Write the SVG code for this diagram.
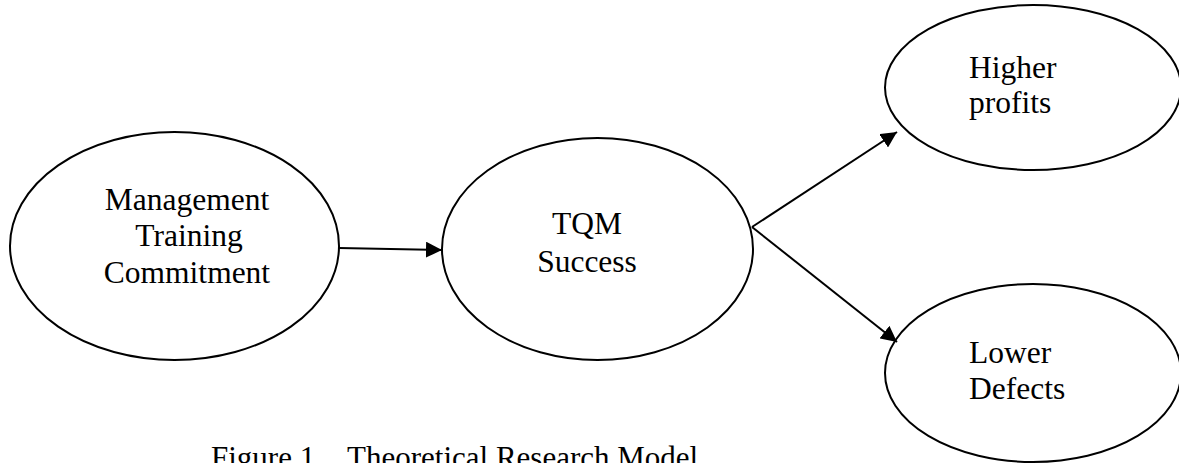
<svg xmlns="http://www.w3.org/2000/svg" width="1179" height="463" viewBox="0 0 1179 463">
<style>
.node ellipse{fill:#fff;stroke:#000;stroke-width:2}
text{font-family:"Liberation Serif","Times New Roman",serif;font-size:31.5px;fill:#000}
.c{text-anchor:middle}
.cap{font-size:31px}
.conn line{stroke:#000;stroke-width:2}
</style>
<defs>
<marker id="ah" viewBox="0 0 16 16" refX="16" refY="8" markerWidth="16" markerHeight="16" markerUnits="userSpaceOnUse" orient="auto">
<path d="M0,0 L16,8 L0,16 Z" fill="#000"/>
</marker>
</defs>
<rect width="1179" height="463" fill="#fff"/>
<g id="n1" class="node">
<ellipse cx="174.5" cy="246" rx="164.5" ry="114"/>
<text class="c" x="187" y="210">Management</text>
<text class="c" x="189" y="246">Training</text>
<text class="c" x="187" y="283">Commitment</text>
</g>
<g id="n2" class="node">
<ellipse cx="597.5" cy="249" rx="155.5" ry="111"/>
<text class="c" x="587" y="234">TQM</text>
<text class="c" x="587" y="272">Success</text>
</g>
<g id="n3" class="node">
<ellipse cx="1033" cy="87.5" rx="148" ry="82.5"/>
<text x="969" y="78">Higher</text>
<text x="969" y="113">profits</text>
</g>
<g id="n4" class="node">
<ellipse cx="1033" cy="373" rx="148" ry="89"/>
<text x="969" y="363">Lower</text>
<text x="969" y="399">Defects</text>
</g>
<g id="connectors" class="conn">
<line x1="339" y1="248" x2="442" y2="250" marker-end="url(#ah)"/>
<line x1="752" y1="227" x2="897" y2="132" marker-end="url(#ah)"/>
<line x1="752" y1="227" x2="897" y2="342" marker-end="url(#ah)"/>
</g>
<g id="caption">
<text class="cap" x="211" y="468">Figure 1</text>
<text class="cap" x="347" y="468">Theoretical Research Model</text>
</g>
</svg>
